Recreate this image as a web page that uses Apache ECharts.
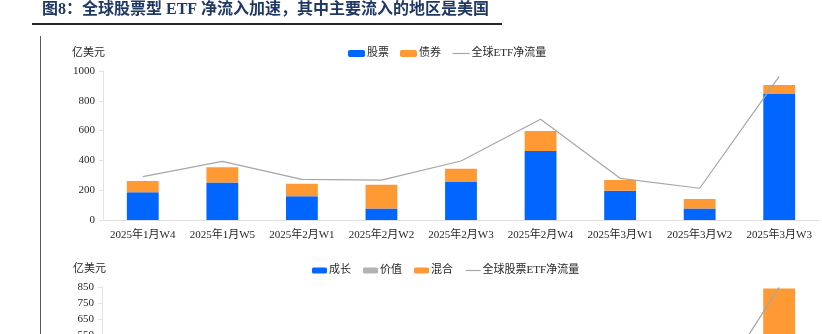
<!DOCTYPE html>
<html><head><meta charset="utf-8">
<script src="https://cdn.jsdelivr.net/npm/echarts@6/dist/echarts.min.js"></script>
<style>html,body{margin:0;padding:0;background:#fff;overflow:hidden;height:334px}#c{width:822px;height:480px}</style>
</head><body><div id="c"></div>
<script>
// ---- data ----
const categories = ['2025年1月W4','2025年1月W5','2025年2月W1','2025年2月W2','2025年2月W3','2025年2月W4','2025年3月W1','2025年3月W2','2025年3月W3'];
// top chart
const stockFlow = [186, 251, 159, 78, 255, 463, 197, 78, 846];
const bondFlow = [76, 103, 85, 159, 89, 134, 71, 63, 60];
const globalEtfFlow = [291, 394, 273, 268, 396, 676, 280, 213, 964];
// bottom chart (mostly below the visible area)
const growthFlow = [95, 120, 70, 30, 140, 240, 90, 25, 300];
const valueFlow = [50, 70, 45, 20, 60, 130, 60, 30, 230];
const mixedFlow = [40, 55, 40, 25, 50, 90, 45, 20, 310];
const globalEquityEtfFlow = [186, 251, 159, 78, 255, 463, 197, 78, 848];

const topAxis = {min: 0, max: 1000, interval: 200};
const bottomAxis = {min: -150, max: 850, interval: 100};

const FONT = '"Liberation Serif","Times New Roman","Noto Sans CJK SC",serif';
const TXT = '#262626';
const BLUE = '#0066ff', ORANGE = '#ff9933', GRAY = '#b3b3b3', LINE = '#a6a6a6';

const chart = echarts.init(document.getElementById('c'));

function yAx(gi, ax) {
  return {
    type: 'value', gridIndex: gi, min: ax.min, max: ax.max, interval: ax.interval,
    axisLine: {show: true, lineStyle: {color: '#e3e3e3', width: 1}},
    axisTick: {show: true, length: 4, lineStyle: {color: '#e3e3e3'}},
    splitLine: {show: false},
    axisLabel: {margin: 8, color: TXT, fontSize: 11, fontFamily: FONT, formatter: v => String(v)}
  };
}
function xAx(gi) {
  return {
    type: 'category', gridIndex: gi, data: categories,
    axisLine: {show: true, lineStyle: {color: '#e0e0e0', width: 1}},
    axisTick: {show: false},
    axisLabel: {margin: 10, color: TXT, fontSize: 11, fontFamily: FONT, interval: 0}
  };
}
const lineLegend = name => ({name: name, itemStyle: {opacity: 0}, lineStyle: {color: LINE, width: 1.2}});

chart.setOption({
  animation: false,
  textStyle: {fontFamily: FONT},
  graphic: [
    {type: 'text', left: 42, top: 2, style: {text: '图8：全球股票型 ETF 净流入加速，其中主要流入的地区是美国', fontSize: 16, fontWeight: 'bold', fontFamily: FONT, fill: '#203864'}},
    {type: 'line', shape: {x1: 32, y1: 24, x2: 502, y2: 24}, style: {stroke: '#262626', lineWidth: 2}},
    {type: 'line', shape: {x1: 40.5, y1: 36, x2: 40.5, y2: 480}, style: {stroke: '#5a5a5a', lineWidth: 1}},
    {type: 'text', left: 72, top: 48, style: {text: '亿美元', fontSize: 11, fontFamily: FONT, fill: TXT}},
    {type: 'text', left: 73, top: 264, style: {text: '亿美元', fontSize: 11, fontFamily: FONT, fill: TXT}}
  ],
  legend: [
    {data: ['股票', '债券', lineLegend('全球ETF净流量')], left: 343, top: 43, itemWidth: 17, itemHeight: 7, itemGap: 11,
     textStyle: {fontSize: 11, fontFamily: FONT, color: TXT, padding: [0, 0, 0, -3]}},
    {data: ['成长', '价值', '混合', lineLegend('全球股票ETF净流量')], left: 307, top: 260, itemWidth: 15, itemHeight: 6, itemGap: 12,
     textStyle: {fontSize: 11, fontFamily: FONT, color: TXT, padding: [0, 0, 0, -3]}}
  ],
  grid: [
    {left: 103, right: 3, top: 71, height: 149},
    {left: 102, right: 3, top: 287, height: 161.5}
  ],
  xAxis: [xAx(0), xAx(1)],
  yAxis: [yAx(0, topAxis), yAx(1, bottomAxis)],
  series: [
    {name: '股票', type: 'bar', stack: 'a', xAxisIndex: 0, yAxisIndex: 0, data: stockFlow, barWidth: '40%', itemStyle: {color: BLUE}},
    {name: '债券', type: 'bar', stack: 'a', xAxisIndex: 0, yAxisIndex: 0, data: bondFlow, itemStyle: {color: ORANGE}},
    {name: '全球ETF净流量', type: 'line', xAxisIndex: 0, yAxisIndex: 0, data: globalEtfFlow, symbol: 'none', z: 5,
     lineStyle: {color: LINE, width: 1.2}, itemStyle: {color: LINE}},
    {name: '成长', type: 'bar', stack: 'b', xAxisIndex: 1, yAxisIndex: 1, data: growthFlow, barWidth: '40%', itemStyle: {color: BLUE}},
    {name: '价值', type: 'bar', stack: 'b', xAxisIndex: 1, yAxisIndex: 1, data: valueFlow, itemStyle: {color: GRAY}},
    {name: '混合', type: 'bar', stack: 'b', xAxisIndex: 1, yAxisIndex: 1, data: mixedFlow, itemStyle: {color: ORANGE}},
    {name: '全球股票ETF净流量', type: 'line', xAxisIndex: 1, yAxisIndex: 1, data: globalEquityEtfFlow, symbol: 'none', z: 5,
     lineStyle: {color: LINE, width: 1.2}, itemStyle: {color: LINE}}
  ]
});
</script>
</body></html>
